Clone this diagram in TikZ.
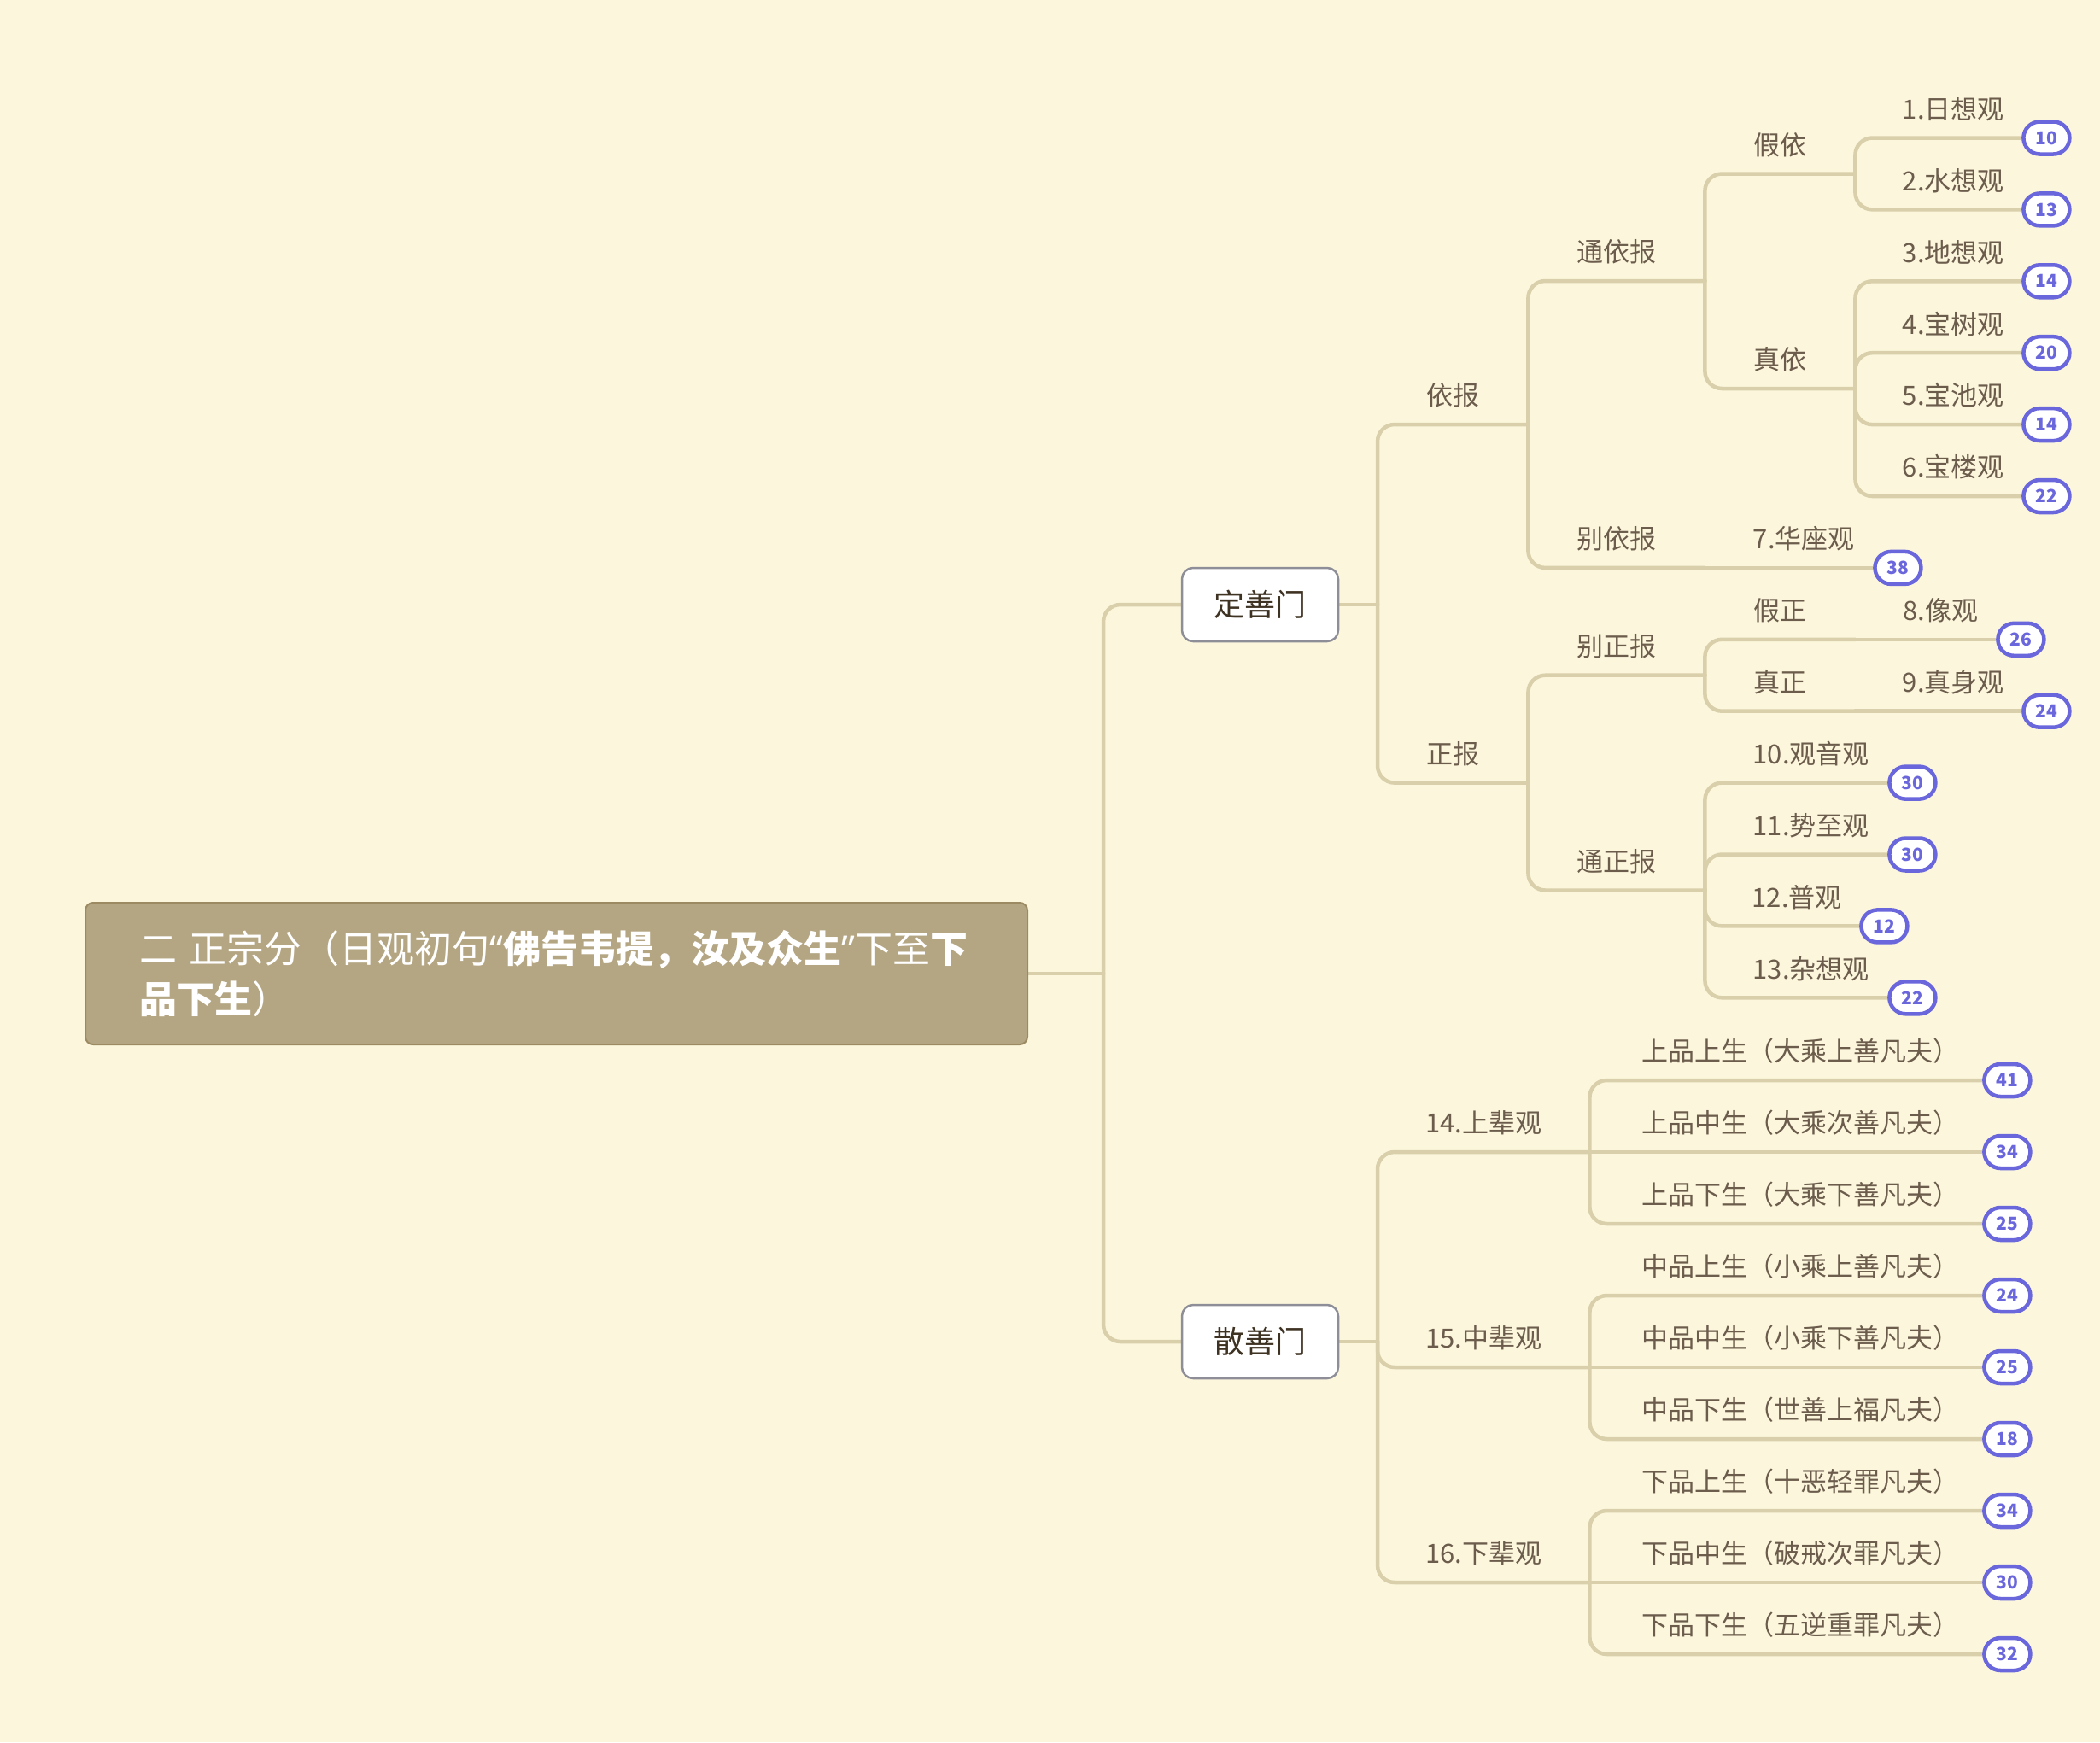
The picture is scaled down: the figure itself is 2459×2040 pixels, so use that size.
\documentclass[tikz,border=0pt]{standalone}
\usepackage{fontspec}
\setmainfont{Noto Sans CJK SC}
\newfontfamily\latinq{Noto Sans}
\usetikzlibrary{calc}
\definecolor{bgcol}{HTML}{FCF7DC}
\definecolor{conncol}{HTML}{D9CFAA}
\definecolor{txtcol}{HTML}{6B5C4C}
\definecolor{boxtxt}{HTML}{3E3222}
\definecolor{boxdraw}{HTML}{8E8E98}
\definecolor{badgecol}{HTML}{6A66DC}
\definecolor{rootfill}{HTML}{B5A683}
\definecolor{rootdraw}{HTML}{9C8A63}
\pgfdeclarelayer{bgfill}
\pgfdeclarelayer{background}
\pgfsetlayers{bgfill,background,main}
\begin{document}
\begin{tikzpicture}[x=1pt,y=-1pt,
  conn/.style={draw=conncol, line width=4.5pt, rounded corners=20pt, line cap=round},
  topic/.style={inner sep=0pt, text height=31pt, text depth=22pt, text=txtcol,
    font=\fontsize{31}{37}\selectfont, anchor=south west},
  boxnode/.style={draw=boxdraw, fill=white, line width=2.5pt, rounded corners=13pt,
    minimum width=183pt, minimum height=86pt, inner sep=0pt, text=boxtxt,
    font=\fontsize{36}{40}\selectfont},
  badge/.style={draw=badgecol, fill=white, line width=4.5pt, rounded corners=19pt,
    minimum width=54pt, minimum height=38pt, inner sep=0pt, text=badgecol,
    font=\fontsize{21}{22}\selectfont\bfseries},
  rootbox/.style={draw=rootdraw, fill=rootfill, line width=2pt, rounded corners=9pt,
    minimum width=1103pt, minimum height=166pt, inner xsep=63pt, text width=977pt,
    align=left, text=white, font=\fontsize{44}{59}\selectfont}
]
\begin{pgfonlayer}{bgfill}
\fill[bgcol] (0,0) rectangle (2459,2040);
\end{pgfonlayer}
\useasboundingbox (0,0) rectangle (2459,2040);

% root and main boxes
\node[rootbox] (root) at (651.5,1140) {二 正宗分（日观初句{\latinq\bfseries “}\textbf{佛告韦提，汝及众生}{\latinq ”}下至\textbf{下}\\\textbf{品下生}）};
\node[boxnode] (ding) at (1475.5,708) {定善门};
\node[boxnode] (san) at (1475.5,1571) {散善门};
\coordinate (rj) at (1292,1140);
\coordinate (dj) at (1613,708);
\coordinate (sj) at (1613,1571);

% level 2 / 3 topics
\node[topic, minimum width=176pt] (yibao) at (1613,497) {依报};
\node[topic, minimum width=176pt] (zhengbao) at (1613,916.6) {正报};
\node[topic, minimum width=207pt] (tongyibao) at (1789,329) {通依报};
\node[topic, minimum width=207pt] (bieyibao) at (1789,664.9) {别依报};
\node[topic, minimum width=176pt] (jiayi) at (1996,203.5) {假依};
\node[topic, minimum width=176pt] (zhenyi) at (1996,455) {真依};
\node[topic, minimum width=207pt] (biezheng) at (1789,790.7) {别正报};
\node[topic, minimum width=207pt] (tongzheng) at (1789,1042.5) {通正报};
\node[topic, minimum width=176pt] (jiazheng) at (1996,748.8) {假正};
\node[topic, minimum width=176pt] (zhenzheng) at (1996,832.7) {真正};
\node[topic, minimum width=248pt] (s14) at (1613,1349) {14.上辈观};
\node[topic, minimum width=248pt] (s15) at (1613,1601) {15.中辈观};
\node[topic, minimum width=248pt] (s16) at (1613,1853) {16.下辈观};

% leaves of 定善门
\foreach \n/\x/\y/\w/\t/\b in {
  1/2172/161.5/230/1.日想观/10,
  2/2172/245.4/230/2.水想观/13,
  3/2172/329.3/230/3.地想观/14,
  4/2172/413.2/230/4.宝树观/20,
  5/2172/497.1/230/5.宝池观/14,
  6/2172/581/230/6.宝楼观/22,
  7/1996/664.9/232/7.华座观/38,
  8/2172/748.8/200/8.像观/26,
  9/2172/832.7/230/9.真身观/24,
  10/1996/916.6/249/10.观音观/30,
  11/1996/1000.5/249/11.势至观/30,
  12/1996/1084.4/216/12.普观/12,
  13/1996/1168.3/249/13.杂想观/22}{
  \node[topic, minimum width=\w pt] (l\n) at (\x,\y) {\t};
  \node[badge] (b\n) at ([xshift=-6pt]l\n.south east) {\b};
}

% leaves of 散善门
\foreach \n/\y/\t/\b in {
  1/1265/上品上生（大乘上善凡夫）/41,
  2/1349/上品中生（大乘次善凡夫）/34,
  3/1433/上品下生（大乘下善凡夫）/25,
  4/1517/中品上生（小乘上善凡夫）/24,
  5/1601/中品中生（小乘下善凡夫）/25,
  6/1685/中品下生（世善上福凡夫）/18,
  7/1769/下品上生（十恶轻罪凡夫）/34,
  8/1853/下品中生（破戒次罪凡夫）/30,
  9/1937/下品下生（五逆重罪凡夫）/32}{
  \node[topic, minimum width=495pt] (a\n) at (1861,\y) {\t};
  \node[badge] (c\n) at ([xshift=-6pt]a\n.south east) {\b};
}

% connectors
\begin{pgfonlayer}{background}
\draw[conn] (root.east) -- (rj);
\draw[conn] (rj) |- (ding.west);
\draw[conn] (rj) |- (san.west);
\draw[conn] (ding.east) -- (dj);
\draw[conn] (dj) |- (yibao.south east);
\draw[conn] (dj) |- (zhengbao.south east);
\draw[conn] (san.east) -- (sj);
\draw[conn] (sj) |- (s14.south east);
\draw[conn] (sj) |- (s15.south east);
\draw[conn] (sj) |- (s16.south east);

\draw[conn] (yibao.south east) |- (tongyibao.south east);
\draw[conn] (yibao.south east) |- (bieyibao.south east);
\draw[conn] (bieyibao.south east) -- (b7);
\draw[conn] (tongyibao.south east) |- (jiayi.south east);
\draw[conn] (tongyibao.south east) |- (zhenyi.south east);
\draw[conn] (jiayi.south east) |- (b1);
\draw[conn] (jiayi.south east) |- (b2);
\foreach \k in {3,4,5,6} \draw[conn] (zhenyi.south east) |- (b\k);

\draw[conn] (zhengbao.south east) |- (biezheng.south east);
\draw[conn] (zhengbao.south east) |- (tongzheng.south east);
\draw[conn] (biezheng.south east) |- (jiazheng.south east);
\draw[conn] (biezheng.south east) |- (zhenzheng.south east);
\draw[conn] (jiazheng.south east) -- (b8);
\draw[conn] (zhenzheng.south east) -- (b9);
\foreach \k in {10,11,12,13} \draw[conn] (tongzheng.south east) |- (b\k);

\draw[conn] (s14.south east) |- (c1);
\draw[conn] (s14.south east) -- (c2);
\draw[conn] (s14.south east) |- (c3);
\draw[conn] (s15.south east) |- (c4);
\draw[conn] (s15.south east) -- (c5);
\draw[conn] (s15.south east) |- (c6);
\draw[conn] (s16.south east) |- (c7);
\draw[conn] (s16.south east) -- (c8);
\draw[conn] (s16.south east) |- (c9);
\end{pgfonlayer}
\end{tikzpicture}
\end{document}
